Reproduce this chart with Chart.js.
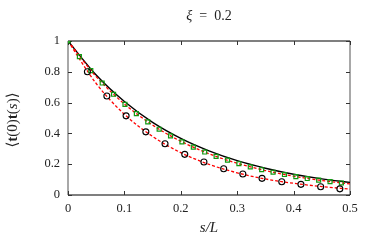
<!DOCTYPE html>
<html><head><meta charset="utf-8">
<script src="https://cdn.jsdelivr.net/npm/chart.js@4"></script>
<style>html,body{margin:0;padding:0;background:#fff}#wrap{width:375px;height:240px}</style>
</head><body><div id="wrap"><canvas id="c" width="375" height="240"></canvas></div>
<script>
const titleText = 'ξ = 0.2';
const xTickLabels = ['0','0.1','0.2','0.3','0.4','0.5'];
const yTickLabels = ['0','0.2','0.4','0.6','0.8','1'];

// simulation data: squares
const squareS = [0,0.0202,0.0404,0.0606,0.0808,0.101,0.1212,0.1414,0.1616,0.1818,0.202,0.2222,0.2424,0.2626,0.2828,0.303,0.3232,0.3434,0.3636,0.3838,0.404,0.4242,0.4444,0.4646,0.4848];
const squareV = [1,0.899,0.808,0.727,0.654,0.588,0.528,0.475,0.427,0.384,0.345,0.311,0.279,0.251,0.226,0.203,0.183,0.164,0.148,0.133,0.119,0.107,0.097,0.087,0.078];
// simulation data: circles
const circleS = [0,0.0344,0.0689,0.103,0.138,0.172,0.207,0.241,0.276,0.310,0.344,0.379,0.413,0.448,0.482];
const circleV = [1,0.80,0.643,0.514,0.41,0.333,0.264,0.214,0.17,0.136,0.108,0.086,0.069,0.054,0.04];
// curves
const curveS = [0,0.05,0.1,0.15,0.2,0.25,0.3,0.35,0.4,0.45,0.5];
const blackV = [1,0.779,0.607,0.472,0.368,0.287,0.223,0.174,0.135,0.105,0.082];
const redUpperV = [1,0.769,0.591,0.454,0.349,0.268,0.206,0.159,0.122,0.094,0.072];
const redLowerV = [1,0.724,0.524,0.380,0.275,0.199,0.144,0.104,0.076,0.055,0.038];

const pts = (xs, ys) => xs.map((x,i)=>({x, y: ys[i]}));
const SERIF = '"Liberation Serif","DejaVu Serif",serif';

const framePlugin = {
  id: 'frame',
  beforeDatasetsDraw(chart) {
    const {ctx, chartArea: a, scales: {x, y}} = chart;
    ctx.save();
    ctx.strokeStyle = '#8c8c8c';
    ctx.lineWidth = 1.5;
    ctx.beginPath();
    ctx.moveTo(a.left, a.top); ctx.lineTo(a.left, a.bottom);
    ctx.moveTo(a.right, a.top); ctx.lineTo(a.right, a.bottom);
    ctx.stroke();
    ctx.strokeStyle = '#000';
    ctx.lineWidth = 1.2;
    ctx.beginPath();
    ctx.moveTo(a.left, a.top); ctx.lineTo(a.right, a.top);
    ctx.moveTo(a.left, a.bottom); ctx.lineTo(a.right, a.bottom);
    ctx.stroke();
    ctx.lineWidth = 1;
    ctx.strokeStyle = '#333';
    ctx.beginPath();
    xTickLabels.forEach(l => {
      const px = Math.round(x.getPixelForValue(parseFloat(l))) + 0.5;
      ctx.moveTo(px, a.bottom); ctx.lineTo(px, a.bottom - 4);
      ctx.moveTo(px, a.top); ctx.lineTo(px, a.top + 4);
    });
    yTickLabels.forEach(l => {
      const py = Math.round(y.getPixelForValue(parseFloat(l))) + 0.5;
      ctx.moveTo(a.left, py); ctx.lineTo(a.left + 4, py);
      ctx.moveTo(a.right, py); ctx.lineTo(a.right - 4, py);
    });
    ctx.stroke();
    ctx.restore();
  },
  afterDraw(chart) {
    const {ctx, chartArea: a} = chart;
    ctx.save();
    ctx.fillStyle = '#222';
    ctx.textBaseline = 'middle';
    const cx = (a.left + a.right) / 2;
    const p1 = 'ξ', p2 = '  =  0.2';
    ctx.font = 'italic 14px ' + SERIF; const w1 = ctx.measureText(p1).width;
    ctx.font = '14px ' + SERIF; const w2 = ctx.measureText(p2).width;
    let sx = cx - (w1 + w2) / 2;
    ctx.textAlign = 'left';
    ctx.font = 'italic 14px ' + SERIF; ctx.fillText(p1, sx, 16);
    ctx.font = '14px ' + SERIF; ctx.fillText(p2, sx + w1, 16);
    ctx.font = 'italic 15px ' + SERIF;
    ctx.textAlign = 'center';
    ctx.fillText('s/L', cx, 228);
    ctx.translate(13, (a.top + a.bottom) / 2 + 2);
    ctx.rotate(-Math.PI / 2);
    const parts = [['⟨', '15px '], ['t', 'bold 15px '], ['(0)', '15px '], ['t', 'bold 15px '], ['(', '15px '], ['s', 'italic 15px '], [')⟩', '15px ']];
    let tw = 0;
    parts.forEach(p => { ctx.font = p[1] + SERIF; tw += ctx.measureText(p[0]).width; });
    let px = -tw / 2;
    ctx.textAlign = 'left';
    parts.forEach(p => { ctx.font = p[1] + SERIF; ctx.fillText(p[0], px, 0); px += ctx.measureText(p[0]).width; });
    ctx.restore();
  }
};

new Chart(document.getElementById('c'), {
  type: 'scatter',
  data: {
    datasets: [
      { label: 'exact', type: 'line', data: pts(curveS, blackV), borderColor: '#000', borderWidth: 1.4, pointRadius: 0, cubicInterpolationMode: 'monotone', fill: false, order: 5 },
      { label: 'fit upper', type: 'line', data: pts(curveS, redUpperV), borderColor: '#ff0000', borderWidth: 1.3, borderDash: [3, 2], pointRadius: 0, cubicInterpolationMode: 'monotone', fill: false, order: 4 },
      { label: 'fit lower', type: 'line', data: pts(curveS, redLowerV), borderColor: '#ff0000', borderWidth: 1.3, borderDash: [3, 2], pointRadius: 0, cubicInterpolationMode: 'monotone', fill: false, order: 3 },
      { label: 'squares', data: pts(squareS.slice(1), squareV.slice(1)), pointStyle: 'rect', pointRadius: 2.8, borderColor: '#119911', borderWidth: 1.2, backgroundColor: 'rgba(0,0,0,0)', order: 2 },
      { label: 'circles', data: pts(circleS.slice(1), circleV.slice(1)), pointStyle: 'circle', pointRadius: 3, borderColor: '#000', borderWidth: 1.1, backgroundColor: 'rgba(0,0,0,0)', order: 1 },
      { label: 'origin', data: [{x: squareS[0], y: squareV[0]}], pointStyle: 'circle', pointRadius: 2.8, borderColor: '#0a5a0a', borderWidth: 1, backgroundColor: '#22aa22', order: 0 }
    ]
  },
  options: {
    responsive: false,
    animation: false,
    devicePixelRatio: 1,
    layout: { padding: { top: 41, right: 25, left: 0, bottom: 0 } },
    plugins: { legend: { display: false }, tooltip: { enabled: false } },
    scales: {
      x: {
        type: 'linear', min: 0, max: 0.5,
        afterFit: s => { s.height = 45; },
        afterBuildTicks: s => { s.ticks = xTickLabels.map(v => ({ value: parseFloat(v) })); },
        ticks: { padding: 6, color: '#222', font: { family: SERIF, size: 12.5 }, maxRotation: 0, callback: (v) => xTickLabels.find(l => parseFloat(l) === v) ?? '' },
        grid: { display: false, drawTicks: false }, border: { display: false }
      },
      y: {
        type: 'linear', min: 0, max: 1,
        afterFit: s => { s.width = 68; },
        afterBuildTicks: s => { s.ticks = yTickLabels.map(v => ({ value: parseFloat(v) })); },
        ticks: { padding: 8, color: '#222', font: { family: SERIF, size: 12.5 }, callback: (v) => yTickLabels.find(l => parseFloat(l) === v) ?? '' },
        grid: { display: false, drawTicks: false }, border: { display: false }
      }
    }
  },
  plugins: [framePlugin]
});
</script></body></html>
